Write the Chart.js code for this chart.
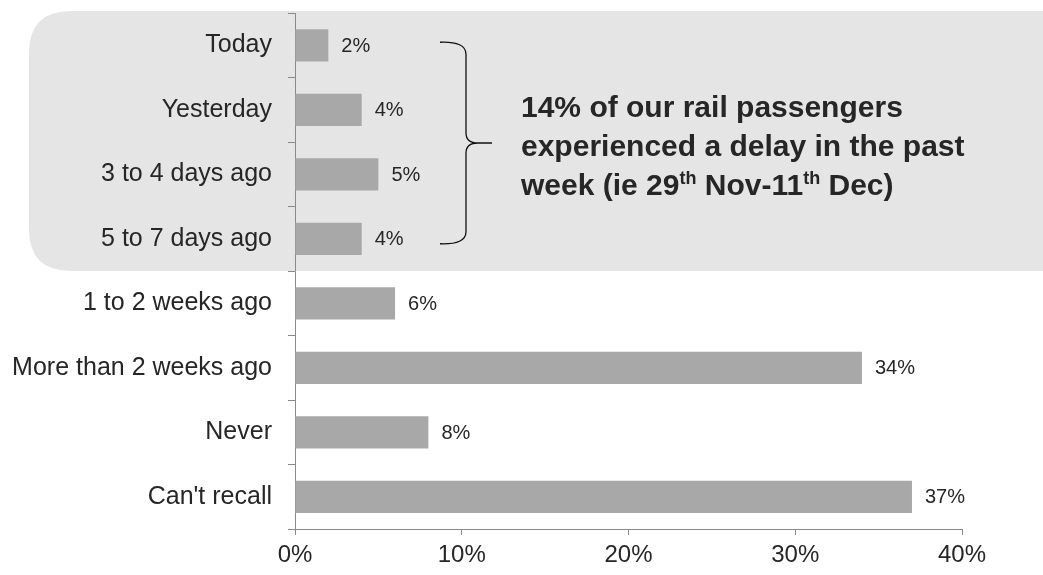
<!DOCTYPE html>
<html>
<head>
<meta charset="utf-8">
<script src="https://cdn.jsdelivr.net/npm/chart.js@4"></script>
<style>
  html, body { margin: 0; padding: 0; background: #fff; }
  #wrap { width: 1043px; height: 575px; position: relative; }
</style>
</head>
<body>
<div id="wrap"><canvas id="delayChart"></canvas></div>
<script>
const categories = ['Today', 'Yesterday', '3 to 4 days ago', '5 to 7 days ago', '1 to 2 weeks ago', 'More than 2 weeks ago', 'Never', "Can't recall"];
const shares = [2, 4, 5, 4, 6, 34, 8, 37];
const xTicks = [0, 10, 20, 30, 40];
const pastWeekCount = 4; // first four rows make up the highlighted "past week" group
const noteLines = [
  [{ t: '14% of our rail passengers' }],
  [{ t: 'experienced a delay in the past' }],
  [{ t: 'week (ie 29' }, { t: 'th', sup: true }, { t: ' Nov-11' }, { t: 'th', sup: true }, { t: ' Dec)' }]
];

const FONT = '"Liberation Sans", Arial, Helvetica, sans-serif';
const TEXT = '#262626';
const AXIS = '#8a8a8a';

function roundRect(ctx, x, y, w, h, r) {
  ctx.beginPath();
  ctx.moveTo(x + r, y);
  ctx.lineTo(x + w - r, y);
  ctx.quadraticCurveTo(x + w, y, x + w, y + r);
  ctx.lineTo(x + w, y + h - r);
  ctx.quadraticCurveTo(x + w, y + h, x + w - r, y + h);
  ctx.lineTo(x + r, y + h);
  ctx.quadraticCurveTo(x, y + h, x, y + h - r);
  ctx.lineTo(x, y + r);
  ctx.quadraticCurveTo(x, y, x + r, y);
  ctx.closePath();
}

// grey panel behind the past-week rows, brace and note
const highlight = {
  id: 'highlight',
  beforeDraw(chart) {
    const { ctx, chartArea, scales: { y } } = chart;
    const step = y.getPixelForValue(1) - y.getPixelForValue(0);
    const bottom = y.getPixelForValue(pastWeekCount - 1) + step / 2;
    const top = chartArea.top - 2;
    ctx.save();
    ctx.fillStyle = '#e5e5e5';
    roundRect(ctx, 29, top, 1060, bottom - top, 42);
    ctx.fill();
    ctx.restore();
  },
  afterDraw(chart) {
    const { ctx, scales: { y } } = chart;
    const top = y.getPixelForValue(0) - 3;
    const bottom = y.getPixelForValue(pastWeekCount - 1) + 5;
    const mid = (top + bottom) / 2;
    const x0 = 440, xv = 466, xt = 492;

    ctx.save();
    ctx.strokeStyle = '#111';
    ctx.lineWidth = 1.3;
    ctx.beginPath();
    ctx.moveTo(x0, top);
    ctx.quadraticCurveTo(xv, top - 1, xv, top + 12);
    ctx.lineTo(xv, mid - 10);
    ctx.quadraticCurveTo(xv, mid, xt - 14, mid);
    ctx.lineTo(xt, mid);
    ctx.moveTo(xt - 14, mid);
    ctx.quadraticCurveTo(xv, mid, xv, mid + 10);
    ctx.lineTo(xv, bottom - 12);
    ctx.quadraticCurveTo(xv, bottom + 1, x0, bottom);
    ctx.stroke();

    // note text with superscripts
    ctx.fillStyle = TEXT;
    ctx.textBaseline = 'alphabetic';
    ctx.textAlign = 'left';
    const baseFont = 'bold 30px ' + FONT;
    const supFont = 'bold 18px ' + FONT;
    noteLines.forEach((parts, i) => {
      let x = 521;
      const base = 117 + i * 39;
      parts.forEach(p => {
        ctx.font = p.sup ? supFont : baseFont;
        ctx.fillText(p.t, x, p.sup ? base - 11 : base);
        x += ctx.measureText(p.t).width;
      });
    });
    ctx.restore();
  }
};

// percentage next to each bar end
const valueLabels = {
  id: 'valueLabels',
  afterDatasetsDraw(chart) {
    const { ctx } = chart;
    const meta = chart.getDatasetMeta(0);
    ctx.save();
    ctx.font = '20px ' + FONT;
    ctx.fillStyle = TEXT;
    ctx.textAlign = 'left';
    ctx.textBaseline = 'middle';
    meta.data.forEach((bar, i) => {
      ctx.fillText(shares[i] + '%', bar.x + 13, bar.y + 1);
    });
    ctx.restore();
  }
};

new Chart(document.getElementById('delayChart'), {
  type: 'bar',
  data: {
    labels: categories,
    datasets: [{
      data: shares,
      backgroundColor: '#a8a8a8',
      borderWidth: 0,
      barPercentage: 0.5,
      categoryPercentage: 1
    }]
  },
  options: {
    indexAxis: 'y',
    responsive: true,
    maintainAspectRatio: false,
    animation: false,
    layout: { padding: { top: 13, right: 81, bottom: 0, left: 0 } },
    plugins: { legend: { display: false }, tooltip: { enabled: false } },
    scales: {
      y: {
        afterFit: s => { s.width = 295; s.paddingTop = 0; s.paddingBottom = 0; },
        grid: { offset: true, drawOnChartArea: false, drawTicks: true, tickLength: 7, color: AXIS },
        border: { display: true, color: AXIS, width: 1 },
        ticks: { color: TEXT, padding: 16, font: { family: FONT, size: 25 } }
      },
      x: {
        min: 0,
        max: 40,
        afterFit: s => { s.height = 46; },
        afterBuildTicks: s => { s.ticks = xTicks.map(v => ({ value: v })); },
        grid: { drawOnChartArea: false, drawTicks: true, tickLength: 6, color: AXIS },
        border: { display: true, color: AXIS, width: 1 },
        ticks: { color: TEXT, padding: 6, font: { family: FONT, size: 24 }, callback: v => v + '%' }
      }
    }
  },
  plugins: [highlight, valueLabels]
});
</script>
</body>
</html>
